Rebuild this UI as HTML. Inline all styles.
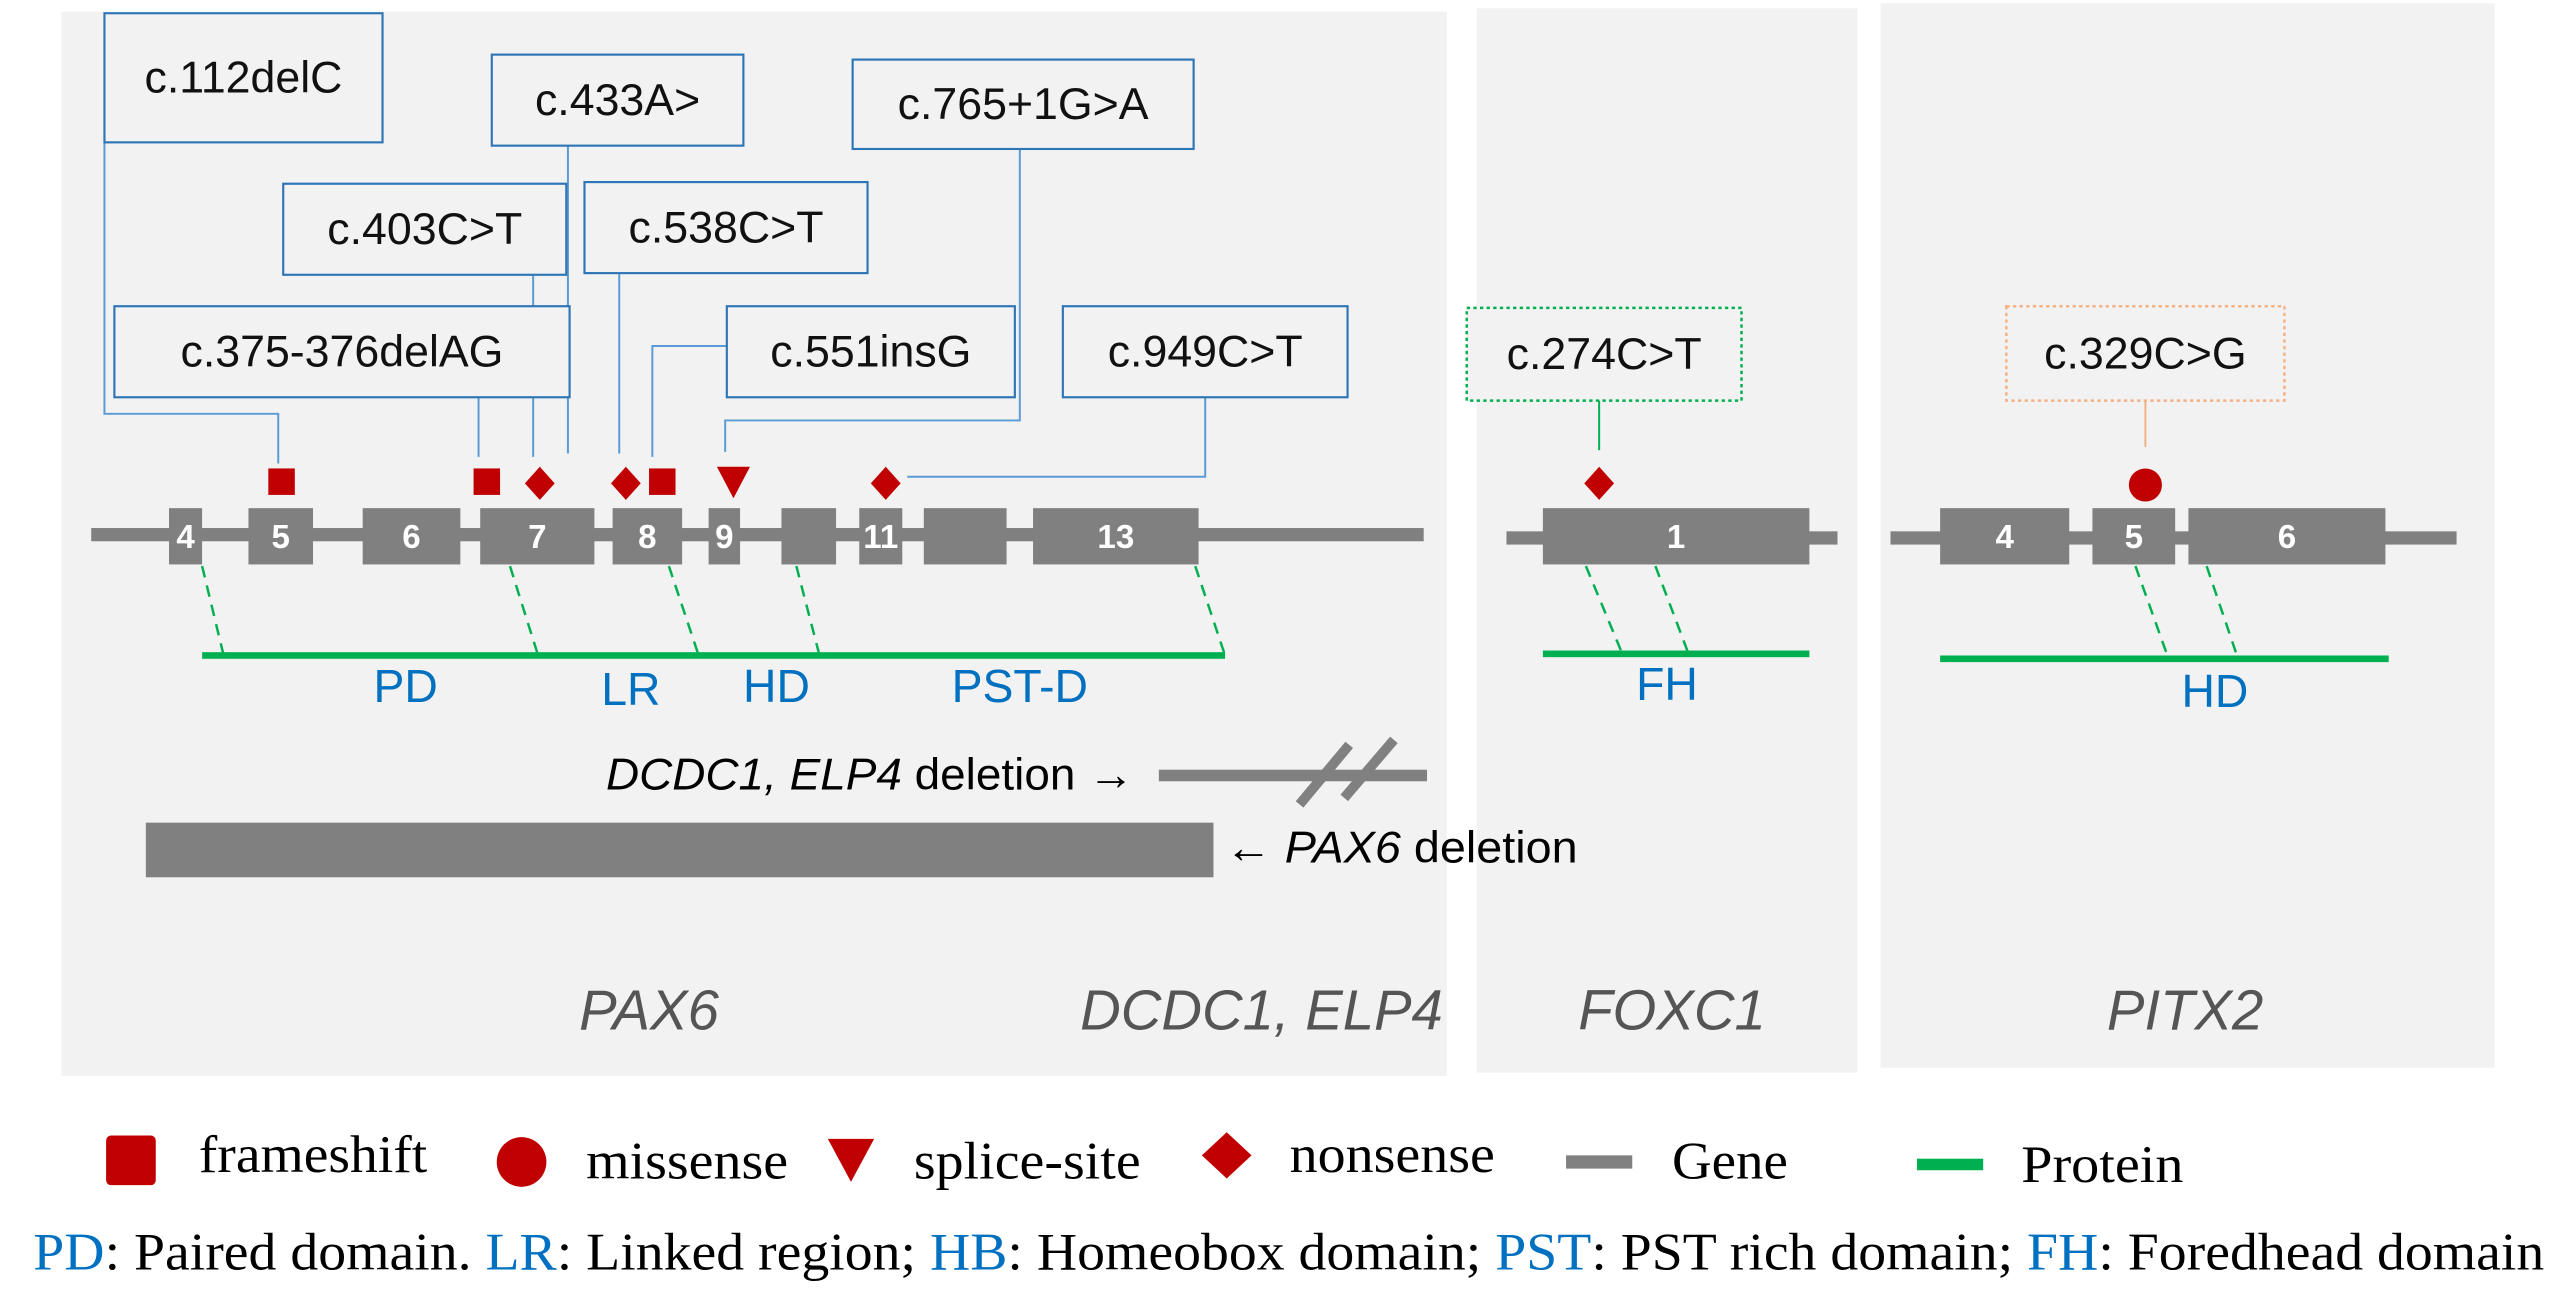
<!DOCTYPE html>
<html><head><meta charset="utf-8"><style>
html,body{margin:0;padding:0;background:#fff;}
svg{display:block;}
.bx{font-family:"Liberation Sans",sans-serif;font-size:27px;fill:#111;text-anchor:middle;}
.ex{font-family:"Liberation Sans",sans-serif;font-size:20px;font-weight:bold;fill:#fff;text-anchor:middle;}
.dm{font-family:"Liberation Sans",sans-serif;font-size:28px;fill:#0070c0;text-anchor:middle;}
.gn{font-family:"Liberation Sans",sans-serif;font-size:34px;font-style:italic;fill:#555;text-anchor:middle;}
.lg{font-family:"Liberation Serif",serif;font-size:32px;fill:#000;}
</style></head><body>
<svg id="fig" width="2566" height="1306" viewBox="0 0 1550 789" xmlns="http://www.w3.org/2000/svg">
<rect x="37" y="7" width="837" height="643" fill="#f2f2f2"/>
<rect x="892" y="5" width="230" height="643" fill="#f2f2f2"/>
<rect x="1136" y="2" width="371" height="643" fill="#f2f2f2"/>
<g id="marks"></g>
<rect x="700" y="465" width="162" height="7" fill="#808080"/>
<g stroke="#808080" stroke-width="6">
<line x1="785" y1="486" x2="815" y2="450"/><line x1="812" y1="482" x2="842" y2="447"/>
</g>
<text x="366" y="477" textLength="319" lengthAdjust="spacingAndGlyphs" font-family="Liberation Sans,sans-serif" font-size="27" fill="#000"><tspan font-style="italic">DCDC1, ELP4</tspan> deletion →</text>
<rect x="88" y="497" width="645" height="33" fill="#808080"/>
<text x="740" y="521" textLength="213" lengthAdjust="spacingAndGlyphs" font-family="Liberation Sans,sans-serif" font-size="27" fill="#000">← <tspan font-style="italic">PAX6</tspan> deletion</text>
<text class="gn" x="392" y="622">PAX6</text>
<text class="gn" x="762" y="622">DCDC1, ELP4</text>
<text class="gn" x="1010" y="622">FOXC1</text>
<text class="gn" x="1320" y="622">PITX2</text>
<rect x="64" y="686" width="30" height="30" rx="3" fill="#c00000"/>
<text class="lg" x="120" y="708" textLength="138" lengthAdjust="spacingAndGlyphs">frameshift</text>
<circle cx="315" cy="702" r="15" fill="#c00000"/>
<text class="lg" x="354" y="712" textLength="122" lengthAdjust="spacingAndGlyphs">missense</text>
<polygon points="500,688 528,688 514,714" fill="#c00000"/>
<text class="lg" x="552" y="712" textLength="137" lengthAdjust="spacingAndGlyphs">splice-site</text>
<polygon points="741,684 756,698 741,712 726,698" fill="#c00000"/>
<text class="lg" x="779" y="708" textLength="124" lengthAdjust="spacingAndGlyphs">nonsense</text>
<rect x="946" y="698" width="40" height="8" fill="#808080"/>
<text class="lg" x="1010" y="712" textLength="70" lengthAdjust="spacingAndGlyphs">Gene</text>
<rect x="1158" y="700" width="40" height="7" fill="#00b050"/>
<text class="lg" x="1221" y="714" textLength="98" lengthAdjust="spacingAndGlyphs">Protein</text>
<text class="lg" x="20" y="767" font-size="30" textLength="1517" lengthAdjust="spacingAndGlyphs"><tspan fill="#0070c0">PD</tspan>: Paired domain. <tspan fill="#0070c0">LR</tspan>: Linked region; <tspan fill="#0070c0">HB</tspan>: Homeobox domain; <tspan fill="#0070c0">PST</tspan>: PST rich domain; <tspan fill="#0070c0">FH</tspan>: Foredhead domain</text>
</svg>
<script>
const geneLines=[[55,860,323],[910,1110,325],[1142,1484,325]];
const exonStarts=[102,150,219,290,370,428,472,519,558,624,932,1172,1264,1322];
const exonEnds=[122,189,278,359,412,447,505,545,608,724,1093,1250,1314,1441];
const exonLabels=["4","5","6","7","8","9","","11","","13","1","4","5","6"];
const exonY=[324,324,324,324,324,324,324,324,324,324,324,324,324,324];
const proteinLines=[[122,740,396],[932,1093,395],[1172,1443,398]];
const domainNames=["PD","LR","HD","PST-D","FH","HD"];
const domainX=[245,381,469,616,1007,1338];
const domainY=[424,426,424,424,423,427];
const dashFrom=[[122,342],[308,342],[404,342],[481,342],[722,342],[958,342],[1000,342],[1290,342],[1333,342]];
const dashTo=[[135,396],[325,396],[422,396],[495,396],[740,396],[980,395],[1020,395],[1310,398],[1352,398]];
const markerType=["square","square","diamond","diamond","square","triangle","diamond","diamond","circle"];
const markerX=[170,294,326,378,400,443,535,966,1296];
const markerY=[291,291,292,292,291,291,292,292,293];
const boxLabels=["c.112delC","c.433A>","c.765+1G>A","c.403C>T","c.538C>T","c.375-376delAG","c.551insG","c.949C>T","c.274C>T","c.329C>G"];
const boxRects=[[63,8,168,78],[297,33,152,55],[515,36,206,54],[171,111,171,55],[353,110,171,55],[69,185,275,55],[439,185,174,55],[642,185,172,55],[886,186,166,56],[1212,185,168,57]];
const connectors=[[[63,86],[63,250],[168,250],[168,280]],[[343,88],[343,274]],[[616,90],[616,254],[438,254],[438,273]],[[322,166],[322,276]],[[374,165],[374,274]],[[289,240],[289,276]],[[439,209],[394,209],[394,276]],[[728,240],[728,288],[548,288]],[[966,242],[966,272]],[[1296,242],[1296,270]]];
const NS='http://www.w3.org/2000/svg';
const g=document.getElementById('marks');
function mk(t,a){const e=document.createElementNS(NS,t);for(const k in a)e.setAttribute(k,a[k]);g.appendChild(e);return e;}
geneLines.forEach((l)=>{const e=mk('rect',{x:l[0],y:l[2]-4,width:l[1]-l[0],height:8,fill:'#808080'});

});
exonStarts.forEach((s,i)=>{const e=mk('rect',{x:s,y:exonY[i]-17,width:exonEnds[i]-s,height:34,fill:'#808080'});


if(exonLabels[i]){const t=mk('text',{x:(s+exonEnds[i])/2,y:exonY[i]+7,class:'ex'});t.textContent=exonLabels[i];

}});
dashFrom.forEach((f,i)=>{const e=mk('line',{x1:f[0],y1:f[1],x2:dashTo[i][0],y2:dashTo[i][1],stroke:'#00b050','stroke-width':1.5,'stroke-dasharray':'7,5'});

});
proteinLines.forEach((l)=>{const e=mk('rect',{x:l[0],y:l[2]-2,width:l[1]-l[0],height:4,fill:'#00b050'});

});
domainNames.forEach((d,i)=>{const t=mk('text',{x:domainX[i],y:domainY[i],class:'dm'});t.textContent=d;

});
connectors.forEach((c,i)=>{const col=i==8?'#00b050':i==9?'#f4b183':'#5b9bd5';
const e=mk('polyline',{points:c.map(p=>p.join(',')).join(' '),fill:'none',stroke:col,'stroke-width':1.2});

});
boxRects.forEach((r,i)=>{const dotted=i>=8;const col=i==8?'#00b050':i==9?'#f4b183':'#2e75b6';
const e=mk('rect',{x:r[0],y:r[1],width:r[2],height:r[3],fill:'#f2f2f2',stroke:col,'stroke-width':dotted?1.5:1.3,'stroke-dasharray':dotted?'2,2':'none'});


const t=mk('text',{x:r[0]+r[2]/2,y:r[1]+r[3]/2+9,class:'bx',fill:dotted?'#404040':'#111'});t.textContent=boxLabels[i];

});
markerType.forEach((m,i)=>{const x=markerX[i],y=markerY[i];let e;
if(m=='square')e=mk('rect',{x:x-8,y:y-8,width:16,height:16,fill:'#c00000'});
else if(m=='diamond')e=mk('polygon',{points:`${x},${y-10} ${x+9},${y} ${x},${y+10} ${x-9},${y}`,fill:'#c00000'});
else if(m=='triangle')e=mk('polygon',{points:`${x-10},${y-9} ${x+10},${y-9} ${x},${y+10}`,fill:'#c00000'});
else e=mk('circle',{cx:x,cy:y,r:10,fill:'#c00000'});

});
</script>
</body></html>
